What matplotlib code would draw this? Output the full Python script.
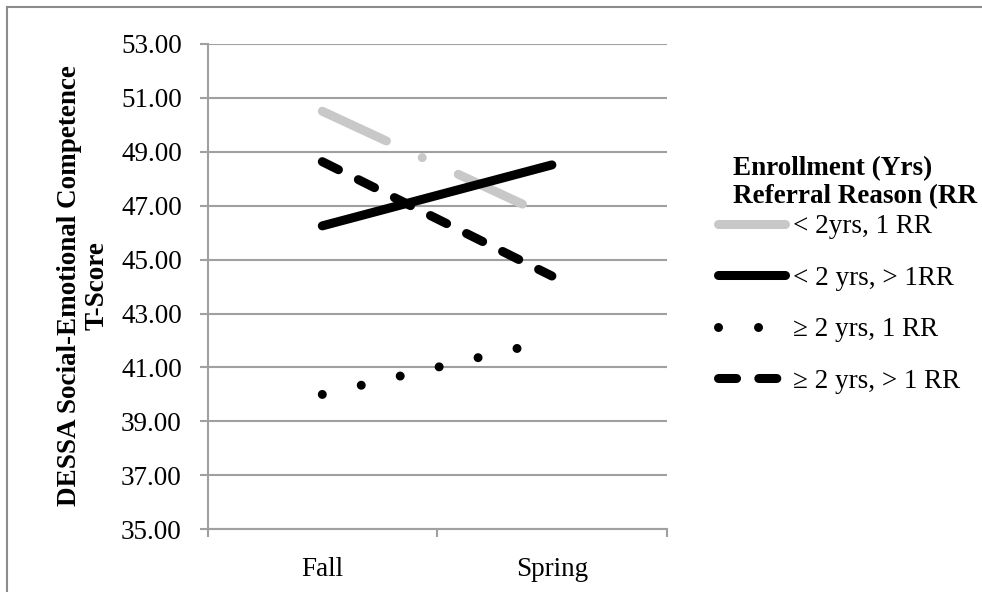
import matplotlib
matplotlib.use("Agg")
import matplotlib.pyplot as plt
from matplotlib.lines import Line2D

# Data
seasons = ["Fall", "Spring"]
labels = ["< 2yrs, 1 RR", "< 2 yrs, > 1RR", "\u2265 2 yrs, 1 RR", "\u2265 2 yrs, > 1 RR"]
lt2_one_rr = [50.50, 46.55]
lt2_multi_rr = [46.25, 48.51]
ge2_one_rr = [40.00, 42.01]
ge2_multi_rr = [48.63, 44.39]
y_ticks = [35, 37, 39, 41, 43, 45, 47, 49, 51, 53]

plt.rcParams["font.family"] = ["Liberation Serif", "DejaVu Serif"]
plt.rcParams["lines.scale_dashes"] = False

W, H, DPI = 982, 592, 100
fig = plt.figure(figsize=(W / DPI, H / DPI), dpi=DPI)
fig.patch.set_facecolor("white")

ax_l, ax_r, ax_t, ax_b = 207.5, 666.7, 43.8, 529.3
ax = fig.add_axes([ax_l / W, 1 - ax_b / H, (ax_r - ax_l) / W, (ax_b - ax_t) / H])

grid_c = "#a0a0a0"
FS = 19.5

x = [0.5, 1.5]
styles = [
    (lt2_one_rr, "#c8c8c8", (0, (50.9, 28.4, 0.01, 28.6))),
    (lt2_multi_rr, "black", "solid"),
    (ge2_one_rr, "black", (0, (0.01, 28.8))),
    (ge2_multi_rr, "black", (0, (13.0, 16.0))),
]
handles = []
for vals, col, ls in styles:
    ln, = ax.plot(x, vals, color=col, lw=6.5, linestyle=ls,
                  solid_capstyle="round", dash_capstyle="round", zorder=3)
    handles.append(ln)

ax.set_xlim(0, 2)
ax.set_ylim(35, 53)
ax.set_yticks(y_ticks)
ax.set_yticklabels([f"{v:.2f}" for v in y_ticks], fontsize=FS)
ax.yaxis.grid(True, color=grid_c, lw=1.5)
ax.set_axisbelow(True)

ax.set_xticks([0, 1, 2])
ax.set_xticklabels([])
ax.set_xticks(x, minor=True)
ax.set_xticklabels(seasons, minor=True, fontsize=FS)
ax.tick_params(axis="x", which="minor", length=0, pad=20)
ax.tick_params(axis="both", which="major", length=6, width=1.5, color=grid_c,
               direction="out")
ax.tick_params(axis="y", pad=12.5)

for s in ["top", "right"]:
    ax.spines[s].set_visible(False)
for s in ["left", "bottom"]:
    ax.spines[s].set_color(grid_c)
    ax.spines[s].set_linewidth(1.5)

fig.text(83 / W, 1 - 286 / H, "DESSA Social-Emotional Competence\nT-Score",
         rotation=90, ha="center", va="center", multialignment="center",
         fontsize=FS, fontweight="bold", linespacing=1.15)

# Legend heading
fig.text(733 / W, 1 - 175 / H, "Enrollment (Yrs)", ha="left", va="baseline",
         fontsize=FS, fontweight="bold")
fig.text(733 / W, 1 - 203 / H, "Referral Reason (RR", ha="left", va="baseline",
         fontsize=FS, fontweight="bold")

leg = fig.legend(handles, labels, loc="upper left",
                 bbox_to_anchor=(717.5 / W, 1 - 214 / H),
                 frameon=False, fontsize=FS,
                 handlelength=2.5, handletextpad=0.28,
                 labelspacing=0.98, borderpad=0, borderaxespad=0)

# Outer chart frame
frame_c = "#8c8c8c"
fig.add_artist(Line2D([7 / W, 7 / W], [0, 1 - 7 / H], color=frame_c, lw=1.5,
                      transform=fig.transFigure))
fig.add_artist(Line2D([7 / W, 1], [1 - 7 / H, 1 - 7 / H], color=frame_c, lw=1.5,
                      transform=fig.transFigure))

fig.savefig("out.png", dpi=DPI)
